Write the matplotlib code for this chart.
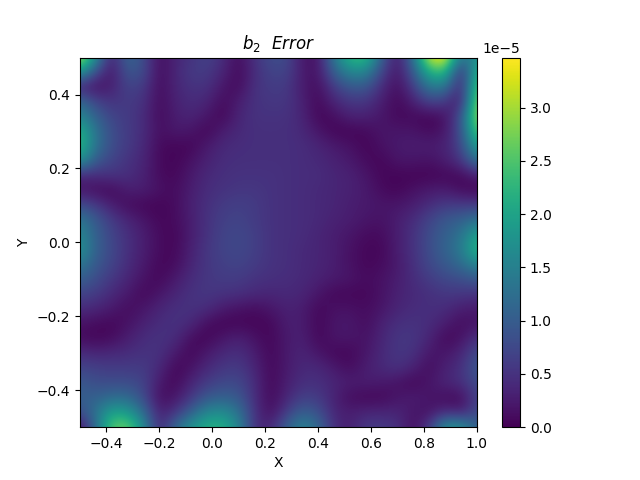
import numpy as np
import matplotlib
matplotlib.use("Agg")
import matplotlib.pyplot as plt


# error, in units of 1e-5, rows from y=0.5 down to y=-0.5
r00 = [3.2,1.7,0.2,1.2,0.8,0.08,0.36,0.5,0.7,0.44,0.08,0.5,0.8,0.8,0.2,0.15,1.4,2.3,2.4,1.05,0.15,1.3,3.3,3.5,1.2,1.8]
r01 = [1.9,0.8,0.15,0.95,0.8,0.08,0.36,0.6,0.6,0.36,0.05,0.44,0.7,0.7,0.25,0.15,1.05,1.6,1.6,0.7,0.15,0.95,2.2,2.4,0.2,2.3]
r02 = [0.3,0.12,0.3,0.7,0.6,0.08,0.36,0.5,0.5,0.2,0.08,0.5,0.6,0.6,0.25,0.1,0.6,0.95,0.95,0.42,0.1,0.6,1.4,1.4,0.2,2.6]
r03 = [1.2,0.7,0.5,0.6,0.5,0.08,0.32,0.44,0.36,0.08,0.28,0.5,0.55,0.55,0.32,0.05,0.36,0.55,0.55,0.28,0.05,0.3,0.7,0.6,0.15,2.9]
r04 = [1.6,1.05,0.7,0.6,0.44,0.08,0.28,0.36,0.2,0.05,0.36,0.5,0.5,0.5,0.36,0.05,0.12,0.32,0.32,0.2,0.08,0.08,0.04,0.15,0.8,3.0]
r05 = [2.2,1.3,0.8,0.6,0.44,0.12,0.24,0.2,0.04,0.28,0.4,0.47,0.47,0.47,0.4,0.2,0.05,0.04,0.08,0.2,0.2,0.2,0.08,0.2,0.8,2.6]
r06 = [2.3,1.3,0.8,0.6,0.4,0.08,0.06,0.05,0.24,0.4,0.44,0.47,0.47,0.47,0.44,0.36,0.24,0.16,0.04,0.16,0.24,0.28,0.28,0.32,0.7,2.0]
r07 = [1.8,0.95,0.7,0.5,0.36,0.08,0.04,0.16,0.32,0.44,0.47,0.47,0.47,0.47,0.44,0.4,0.32,0.24,0.1,0.05,0.2,0.2,0.15,0.28,0.5,1.3]
r08 = [0.36,0.44,0.5,0.47,0.32,0.1,0.06,0.24,0.4,0.47,0.5,0.5,0.5,0.47,0.44,0.44,0.36,0.32,0.2,0.06,0.04,0.04,0.04,0.06,0.06,0.28]
r09 = [0.2,0.1,0.06,0.28,0.28,0.16,0.1,0.28,0.44,0.5,0.55,0.55,0.5,0.47,0.44,0.4,0.36,0.32,0.24,0.1,0.05,0.16,0.24,0.28,0.1,0.05]
r10 = [0.8,0.6,0.28,0.1,0.06,0.04,0.1,0.32,0.47,0.6,0.65,0.6,0.5,0.47,0.44,0.4,0.36,0.28,0.24,0.2,0.2,0.28,0.44,0.6,0.6,0.6]
r11 = [1.4,0.95,0.6,0.36,0.2,0.06,0.1,0.28,0.5,0.65,0.7,0.6,0.5,0.47,0.44,0.4,0.32,0.28,0.2,0.16,0.28,0.44,0.7,0.95,1.05,1.3]
r12 = [1.6,1.05,0.7,0.47,0.28,0.1,0.05,0.28,0.5,0.7,0.75,0.65,0.5,0.47,0.44,0.36,0.28,0.2,0.1,0.1,0.28,0.5,0.8,1.05,1.3,2.0]
r13 = [1.8,1.05,0.75,0.47,0.28,0.1,0.06,0.32,0.55,0.7,0.75,0.65,0.5,0.47,0.4,0.36,0.28,0.16,0.06,0.06,0.28,0.5,0.8,1.1,1.4,2.3]
r14 = [1.4,0.95,0.7,0.44,0.24,0.06,0.1,0.36,0.55,0.65,0.7,0.6,0.5,0.47,0.4,0.36,0.28,0.16,0.06,0.1,0.24,0.47,0.75,0.95,1.2,1.6]
r15 = [1.05,0.8,0.55,0.36,0.16,0.06,0.24,0.44,0.55,0.6,0.6,0.5,0.47,0.44,0.4,0.32,0.24,0.2,0.1,0.16,0.28,0.44,0.6,0.75,0.8,0.95]
r16 = [0.7,0.6,0.4,0.24,0.06,0.2,0.36,0.5,0.55,0.5,0.47,0.4,0.36,0.4,0.36,0.2,0.06,0.06,0.06,0.16,0.32,0.4,0.47,0.55,0.55,0.5]
r17 = [0.44,0.36,0.24,0.1,0.2,0.36,0.47,0.5,0.44,0.24,0.16,0.1,0.2,0.32,0.28,0.06,0.16,0.16,0.1,0.2,0.36,0.44,0.47,0.44,0.28,0.24]
r18 = [0.16,0.1,0.06,0.16,0.32,0.44,0.5,0.4,0.1,0.04,0.05,0.05,0.06,0.28,0.28,0.05,0.2,0.24,0.1,0.32,0.47,0.5,0.44,0.28,0.1,0.2]
r19 = [0.1,0.05,0.1,0.28,0.44,0.5,0.44,0.1,0.05,0.2,0.32,0.16,0.05,0.24,0.32,0.05,0.2,0.2,0.16,0.36,0.55,0.55,0.36,0.06,0.16,0.5]
r20 = [0.44,0.36,0.4,0.44,0.5,0.5,0.24,0.05,0.24,0.4,0.47,0.28,0.05,0.24,0.36,0.2,0.06,0.06,0.2,0.4,0.55,0.5,0.2,0.2,0.36,0.8]
r21 = [0.7,0.65,0.6,0.6,0.6,0.4,0.05,0.16,0.4,0.55,0.6,0.36,0.06,0.24,0.4,0.4,0.24,0.1,0.28,0.4,0.5,0.32,0.1,0.32,0.47,0.95]
r22 = [0.95,0.8,0.8,0.8,0.7,0.24,0.05,0.36,0.6,0.75,0.75,0.44,0.05,0.28,0.47,0.47,0.36,0.28,0.28,0.24,0.16,0.05,0.2,0.36,0.47,0.8]
r23 = [1.05,1.05,1.2,1.2,0.8,0.1,0.2,0.55,0.95,1.05,0.95,0.44,0.06,0.36,0.65,0.6,0.32,0.1,0.06,0.06,0.2,0.28,0.2,0.1,0.06,0.7]
r24 = [0.8,1.3,2.0,1.9,1.2,0.28,0.5,1.05,1.6,1.7,1.3,0.5,0.1,0.6,1.05,0.85,0.36,0.28,0.36,0.36,0.36,0.2,0.16,0.44,0.28,0.8]
r25 = [0.1,1.2,2.6,2.7,1.7,0.28,1.2,1.8,2.2,2.2,1.6,0.44,0.36,1.05,1.6,1.2,0.44,0.28,0.6,0.6,0.5,0.1,0.6,1.8,1.8,1.05]

rows = [r00, r01, r02, r03, r04, r05, r06, r07, r08, r09, r10, r11, r12,
        r13, r14, r15, r16, r17, r18, r19, r20, r21, r22, r23, r24, r25]
err = np.array(rows) * 1e-5

xmin, xmax = -0.5, 1.0
ymin, ymax = -0.5, 0.5

# half a cell outside the limits so the first and last rows sit on the frame
dx = (xmax - xmin) / 25 / 2
dy = (ymax - ymin) / 25 / 2

fig = plt.figure(figsize=(6.4, 4.8), dpi=100)
im = plt.imshow(err, cmap="viridis", vmin=0, vmax=3.47e-5, aspect="auto",
                interpolation="bicubic",
                extent=(xmin - dx, xmax + dx, ymin - dy, ymax + dy))
plt.colorbar(im)
plt.xlim(xmin, xmax)
plt.ylim(ymin, ymax)
plt.xlabel("X")
plt.ylabel("Y")
plt.title(r"$b_2\ \ Error$")

plt.savefig("out.png")
